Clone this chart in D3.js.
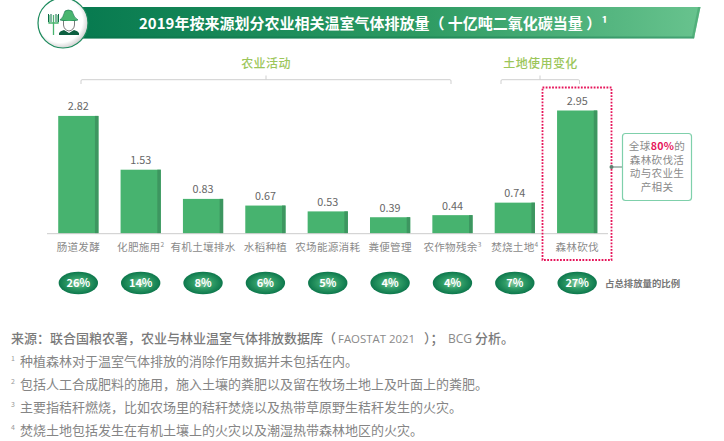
<!DOCTYPE html>
<html><head><meta charset="utf-8">
<script src="https://cdn.jsdelivr.net/npm/d3@7/dist/d3.min.js"></script>
<style>html,body{margin:0;padding:0;background:#fff}svg{display:block}text{font-family:"Noto Sans CJK SC","Noto Sans",sans-serif}</style>
</head><body><svg id="c" width="724" height="441"></svg>
<script>
const categories=["肠道发酵","化肥施用","有机土壤排水","水稻种植","农场能源消耗","粪便管理","农作物残余","焚烧土地","森林砍伐"];
const catSup=["","2","","","","","3","4",""];
const values=[2.82,1.53,0.83,0.67,0.53,0.39,0.44,0.74,2.95];
const shares=["26%","14%","8%","6%","5%","4%","4%","7%","27%"];
const title="2019年按来源划分农业相关温室气体排放量（ 十亿吨二氧化碳当量 ）¹";
const source=[["来源：联合国粮农署，农业与林业温室气体排放数据库（",11,0],["FAOSTAT 2021",338,1],["）；",424,0],["BCG",448,1],["分析。",475,0]];
const notes=[
 ["1","种植森林对于温室气体排放的消除作用数据并未包括在内。"],
 ["2","包括人工合成肥料的施用，施入土壤的粪肥以及留在牧场土地上及叶面上的粪肥。"],
 ["3","主要指秸秆燃烧，比如农场里的秸秆焚烧以及热带草原野生秸秆发生的火灾。"],
 ["4","焚烧土地包括发生在有机土壤上的火灾以及潮湿热带森林地区的火灾。"]];
const noteY=[362,385,408,431];

const svg=d3.select("#c");
const defs=svg.append("defs");
const g1=defs.append("linearGradient").attr("id","ban");
g1.append("stop").attr("offset","0").attr("stop-color","#06794f");
g1.append("stop").attr("offset","0.55").attr("stop-color","#2c9a62");
g1.append("stop").attr("offset","1").attr("stop-color","#68c38e");
const g2=defs.append("radialGradient").attr("id","pill").attr("cx","0.5").attr("cy","0.5").attr("r","0.55");
g2.append("stop").attr("offset","0").attr("stop-color","#8fd0a8");
g2.append("stop").attr("offset","0.45").attr("stop-color","#2f9c66");
g2.append("stop").attr("offset","1").attr("stop-color","#067047");
const g3=defs.append("radialGradient").attr("id","ic").attr("cx","0.45").attr("cy","0.45").attr("r","0.55");
g3.append("stop").attr("offset","0.8").attr("stop-color","#fff");
g3.append("stop").attr("offset","1").attr("stop-color","#d5d5d5");

// banner
svg.append("path").attr("d","M70,7H700.5L694,38.5H70Z").attr("fill","url(#ban)");
svg.append("path").attr("d","M70,36.5H694.5L694,38.5H70Z").attr("fill","#0a6a45").attr("opacity",.35);
svg.append("path").attr("d","M700.5,7L694,38.5L692,36.5L698,7Z").attr("fill","#4aa874").attr("opacity",.7);
svg.append("text").attr("x",139).attr("y",28.5).attr("fill","#fff").attr("font-size",15).attr("font-weight",700).text(title);

// icon
svg.append("circle").attr("cx",63).attr("cy",23).attr("r",25).attr("fill","url(#ic)").attr("stroke","#1b8a5c").attr("stroke-width",1.2);
const ic=svg.append("g");
ic.append("path").attr("d","M49,15V23H58V15M53.5,15V35").attr("fill","none").attr("stroke","#49b56f").attr("stroke-width",1.3);
ic.append("path").attr("d","M48.5,14V22M51,14V22M56,14V22M58.5,14V22").attr("fill","none").attr("stroke","#0c6d48").attr("stroke-width",1);
ic.append("path").attr("d","M60,20Q63,18 65,11Q68,9 72,11Q74,18 78,20Q69,23 60,20Z").attr("fill","#49b56f").attr("stroke","#0c6d48").attr("stroke-width",.6);
ic.append("path").attr("d","M63.5,21V25Q64,30 69,31Q74,30 74.5,25V21").attr("fill","#fff").attr("stroke","#222").attr("stroke-width",.6);
ic.append("path").attr("d","M59,35V33Q60,31 64,30L69,33L74,30Q78,31 79,33V35Z").attr("fill","#0d5f40");

// group labels
const groupLabel=(x,t)=>svg.append("text").attr("x",x).attr("y",68).attr("text-anchor","middle").attr("fill","#9cc65a").attr("font-size",12).attr("font-weight",500).attr("letter-spacing",.4).text(t);
groupLabel(266,"农业活动");groupLabel(540.5,"土地使用变化");
const bracket=(a,b,m)=>svg.append("path").attr("d",`M${a},84V81Q${a},79.7 ${a+1},79.7H${b-1}Q${b},79.7 ${b},81V84M${m},79.7V75.5`).attr("fill","none").attr("stroke","#cfcfcf").attr("stroke-width",1);
bracket(81,451,266);bracket(501,579.5,540);

// chart
const x=d3.scaleBand().domain(categories).range([47,608.5]).paddingInner(0.355).paddingOuter(0.18);
const y=d3.scaleLinear().domain([0,2.95]).range([233.5,110.5]);
const data=categories.map((c,i)=>({c,v:values[i],s:shares[i],sup:catSup[i]}));
const bars=svg.append("g").selectAll("g").data(data).join("g");
bars.append("rect").attr("x",d=>x(d.c)).attr("y",d=>y(d.v)).attr("width",x.bandwidth()).attr("height",d=>y(0)-y(d.v)).attr("fill","#47b36f");
bars.append("rect").attr("x",d=>x(d.c)+x.bandwidth()-3.5).attr("y",d=>y(d.v)).attr("width",3.5).attr("height",d=>y(0)-y(d.v)).attr("fill","#3d9660");
bars.append("text").attr("x",d=>x(d.c)+x.bandwidth()/2).attr("y",d=>y(d.v)-5.5).attr("text-anchor","middle").attr("fill","#666").attr("font-size",10.8).attr("font-family","'Open Sans',sans-serif").text(d=>d.v.toFixed(2));
svg.append("line").attr("x1",47).attr("x2",608).attr("y1",233.7).attr("y2",233.7).attr("stroke","#cccccc").attr("stroke-width",1);
const lab=bars.append("text").attr("x",d=>x(d.c)+x.bandwidth()/2).attr("y",251).attr("text-anchor","middle").attr("fill","#8a8a8a").attr("font-size",10.6).attr("letter-spacing",.25);
lab.append("tspan").text(d=>d.c);
lab.append("tspan").attr("font-size",6.5).attr("dy",-4).text(d=>d.sup);

bars.append("ellipse").attr("cx",d=>x(d.c)+x.bandwidth()/2).attr("cy",283).attr("rx",19.7).attr("ry",11.3).attr("fill","url(#pill)");
bars.append("text").attr("x",d=>x(d.c)+x.bandwidth()/2).attr("y",287).attr("text-anchor","middle").attr("fill","#fff").attr("font-size",11).attr("font-weight",700).attr("font-family","'Open Sans',sans-serif").text(d=>d.s);
svg.append("text").attr("x",605).attr("y",286.5).attr("fill","#777").attr("font-size",9.4).attr("font-weight",700).text("占总排放量的比例");

// highlight
svg.append("rect").attr("x",542.5).attr("y",87.5).attr("width",69).attr("height",172.5).attr("fill","none").attr("stroke","#e6145a").attr("stroke-width",1.8).attr("stroke-dasharray","1.8 1.4");
svg.append("line").attr("x1",611.5).attr("x2",622).attr("y1",167).attr("y2",167).attr("stroke","#5f7f70").attr("stroke-width",1);
svg.append("circle").attr("cx",611.5).attr("cy",167).attr("r",2).attr("fill","#5f7f70");
svg.append("rect").attr("x",622.5).attr("y",133.5).attr("width",69).attr("height",67).attr("rx",3).attr("fill","#fff").attr("stroke","#7fd0ab").attr("stroke-width",1.2);
const callout=svg.append("text").attr("text-anchor","middle").attr("font-size",10.6).attr("letter-spacing",.3).attr("fill","#8a8a8a");
[[["全球"],["80%",1],["的"]],[["森林砍伐活"]],[["动与农业生"]],[["产相关"]]].forEach((parts,i)=>{
 parts.forEach((p,j)=>{const s=callout.append("tspan").text(p[0]);
  if(j===0)s.attr("x",657).attr("y",150+i*13.5);
  if(p[1])s.attr("fill","#e6145a").attr("font-weight",700);});
});

// notes
const src=svg.append("text").attr("y",343).attr("fill","#7a7a7a").attr("font-size",13).attr("font-weight",500);
source.forEach(p=>{const s=src.append("tspan").attr("x",p[1]).attr("y",343).text(p[0]);
 if(p[2])s.attr("font-family","'Open Sans',sans-serif").attr("font-weight",400).attr("font-size",p[1]<400?11.4:12).attr("fill","#8a8a8a");});
notes.forEach((n,i)=>{
 svg.append("text").attr("x",11).attr("y",noteY[i]-1.5).attr("fill","#999").attr("font-size",7).text(n[0]);
 svg.append("text").attr("x",20).attr("y",noteY[i]+4).attr("fill","#858585").attr("font-size",13).text(n[1]);
});
</script></body></html>
